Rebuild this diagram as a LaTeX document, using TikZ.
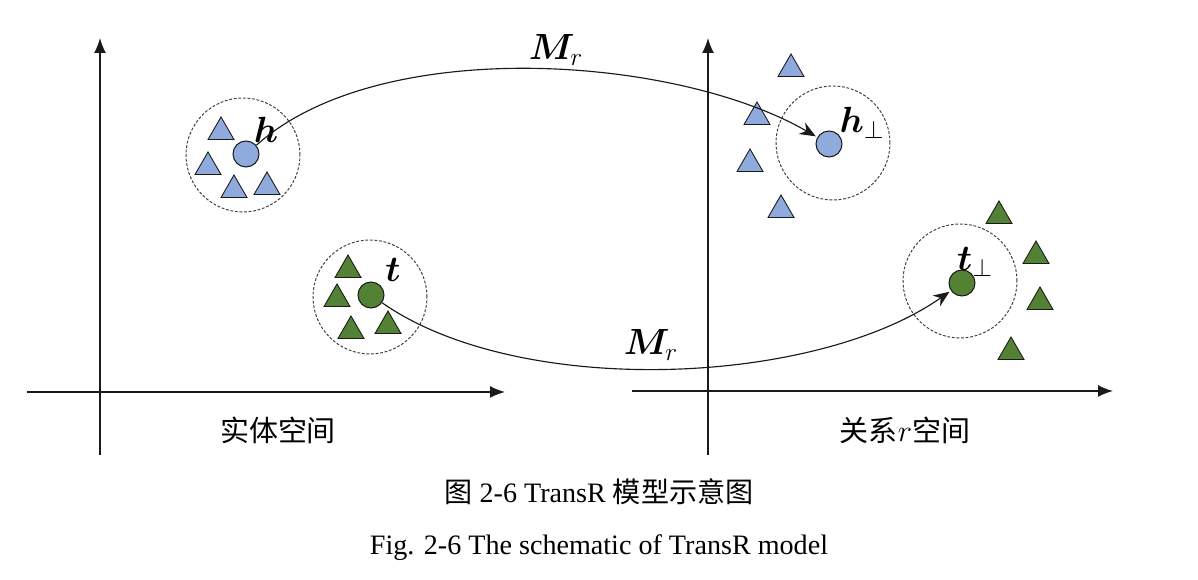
\documentclass[tikz,border=0pt]{standalone}
\usepackage{amsmath,amssymb,bm}
\usepackage{fontspec}
\setmainfont{Liberation Serif}
\newfontfamily\cjk{Noto Sans CJK SC}
\usetikzlibrary{arrows.meta,shapes.geometric}
\definecolor{ink}{HTML}{1A1A1A}
\definecolor{hblue}{HTML}{8FAADC}
\definecolor{tgreen}{HTML}{548235}
\tikzset{ball/.style={circle,draw=ink,fill=#1,minimum size=5.2mm,inner sep=0pt,line width=.6pt},
  tri/.style={regular polygon,regular polygon sides=3,draw=ink,fill=#1,minimum size=6mm,inner sep=0pt,line width=.5pt},
  zone/.style={circle,draw=ink!85,dash pattern=on 1.6pt off 1pt,minimum size=22.8mm,inner sep=0pt,line width=.55pt},
  axis/.style={line width=.85pt,draw=ink,-{Latex[length=3mm,width=2.4mm]}},
  map/.style={line width=.65pt,draw=ink,-{Stealth[length=3.2mm,width=2.6mm]}},
  sym/.style={font=\fontsize{20}{22}\selectfont},
  lbl/.style={font=\fontsize{16.5}{19}\selectfont\cjk},
  captext/.style={font=\fontsize{16}{19}\selectfont}}
\begin{document}
\begin{tikzpicture}[x=0.02cm,y=0.02cm]
\useasboundingbox (0,0) rectangle (1198,580);
% axes
\coordinate (lo) at (27,188); \coordinate (lx) at (505,188);
\coordinate (lb) at (100,125); \coordinate (ly) at (100,542);
\coordinate (ro) at (632,189); \coordinate (rx) at (1113,189);
\coordinate (rb) at (708,125); \coordinate (ry) at (708,542);
\draw[axis] (lo) -- (lx);
\draw[axis] (lb) -- (ly);
\draw[axis] (ro) -- (rx);
\draw[axis] (rb) -- (ry);
% entity space
\node[zone] (hz) at (243,425) {};
\node[zone] (tz) at (370,283) {};
\foreach \p [count=\i] in {{221,448},{208,413},{234,390},{267,393}}
  \node[tri=hblue] (ht\i) at (\p) {};
\foreach \p [count=\i] in {{348,310},{337,281},{351,249},{388,254}}
  \node[tri=tgreen] (tt\i) at (\p) {};
\node[ball=hblue] (h) at (246,426) {};
\node[ball=tgreen] (t) at (371,285) {};
\node[sym] (hl) at (266,450) {$\boldsymbol{h}$};
\node[sym] (tl) at (393,310) {$\boldsymbol{t}$};
% relation space
\node[zone] (hpz) at (833,437) {};
\node[zone] (tpz) at (960,299) {};
\foreach \p [count=\i] in {{791,511},{757,463},{750,416},{781,370}}
  \node[tri=hblue] (hpt\i) at (\p) {};
\foreach \p [count=\i] in {{999,364},{1036,324},{1040,278},{1011,228}}
  \node[tri=tgreen] (tpt\i) at (\p) {};
\node[ball=hblue] (hp) at (829,436) {};
\node[ball=tgreen] (tp) at (962,297) {};
\node[sym] (hpl) at (862,457) {$\boldsymbol{h}_{\perp}$};
\node[sym] (tpl) at (975,318) {$\boldsymbol{t}_{\perp}$};
% projections
\draw[map,shorten >=1pt] (h.40) to[out=42,in=150,looseness=.75] (hp.150);
\draw[map,shorten >=1pt] (t.-35) to[out=-35,in=215,looseness=.75] (tp.215);
\node[sym] (m1) at (556,530) {$\boldsymbol{M}_r$};
\node[sym] (m2) at (651,235) {$\boldsymbol{M}_r$};
% labels
\node[lbl] (ls) at (278,150) {实体空间};
\node[lbl] (rs) at (905,150) {关系$r$空间};
\node[captext] (c1) at (599,88) {{\cjk 图} 2-6 TransR {\cjk 模型示意图}};
\node[captext] (c2) at (599,32) {Fig. 2-6 The schematic of TransR model};
\end{tikzpicture}
\end{document}
